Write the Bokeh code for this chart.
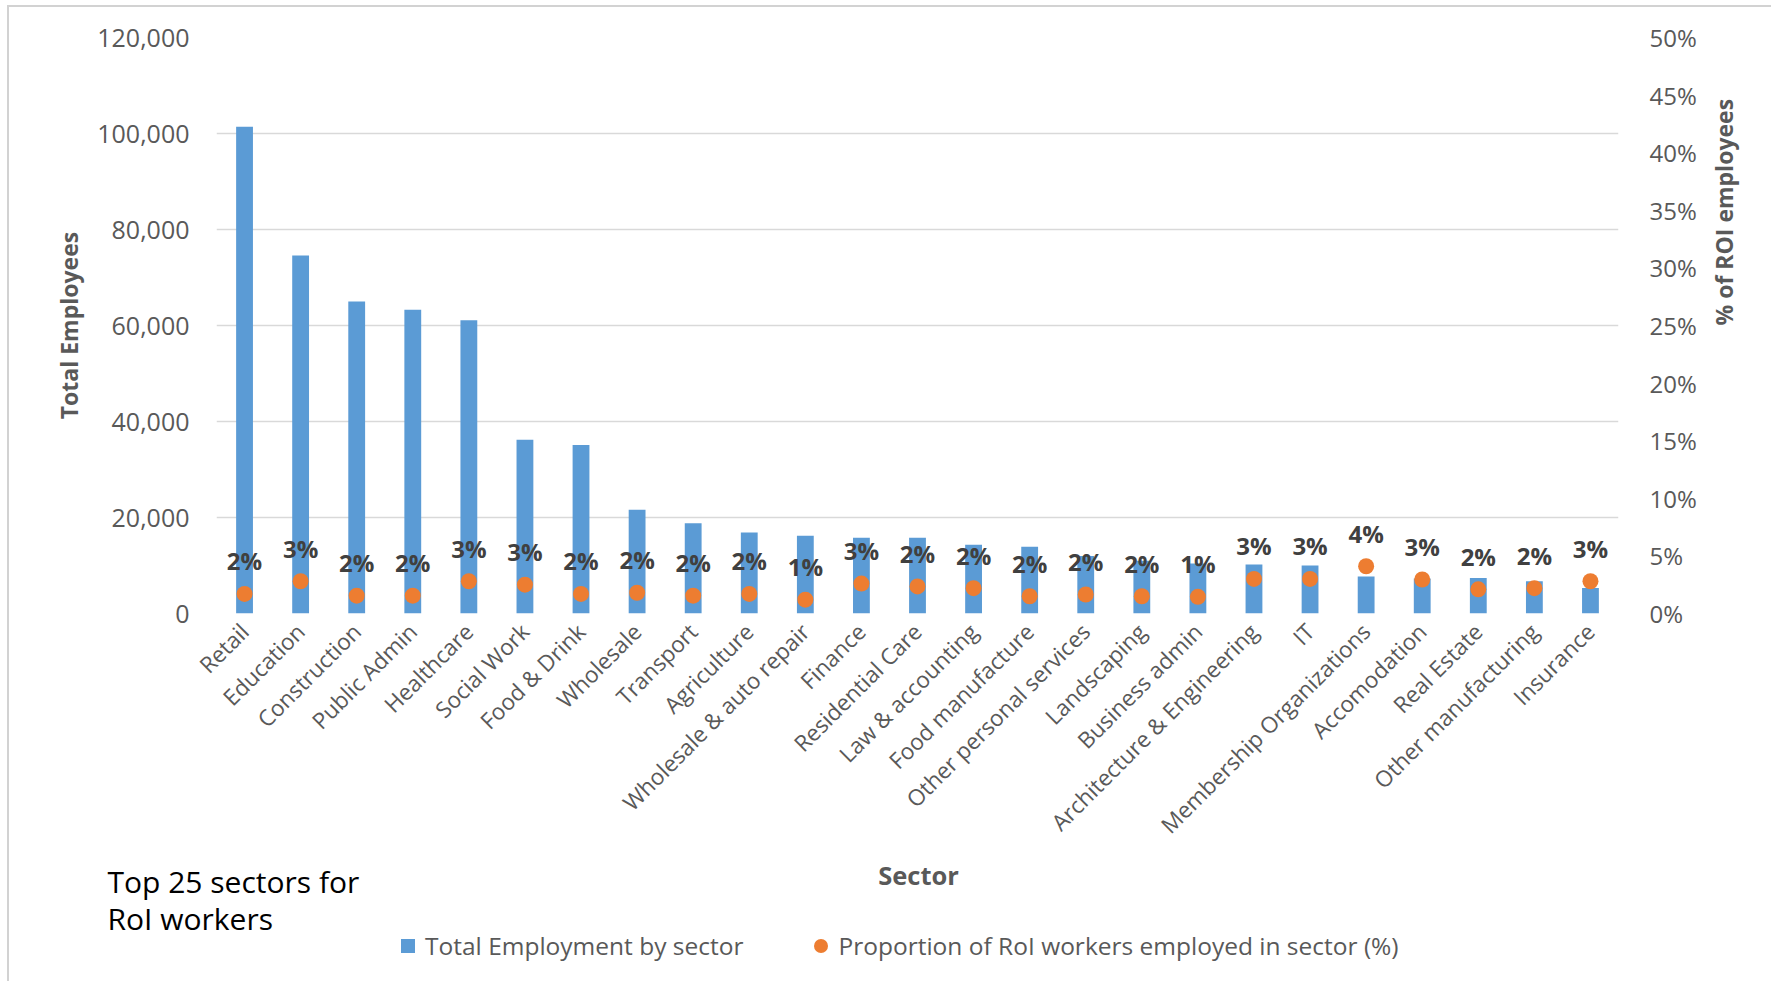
import math
from bokeh.plotting import figure
from bokeh.layouts import column
from bokeh.models import (Range1d, LinearAxis, FixedTicker, NumeralTickFormatter,
                          PrintfTickFormatter, Label, Legend, LegendItem,
                          ColumnDataSource, FactorRange)
from bokeh.core.properties import value
from bokeh.embed import file_html
from bokeh.resources import INLINE

# ---------------- data ----------------
sectors = ["Retail", "Education", "Construction", "Public Admin", "Healthcare",
           "Social Work", "Food & Drink", "Wholesale", "Transport", "Agriculture",
           "Wholesale & auto repair", "Finance", "Residential Care", "Law & accounting",
           "Food manufacture", "Other personal services", "Landscaping", "Business admin",
           "Architecture & Engineering", "IT", "Membership Organizations", "Accomodation",
           "Real Estate", "Other manufacturing", "Insurance"]
total_employees = [101400, 74600, 65000, 63300, 61100, 36200, 35100, 21600, 18800, 16900,
                   16200, 15800, 15800, 14300, 13900, 12000, 11000, 10400, 10200, 10000,
                   7700, 7300, 7400, 6700, 5300]
pct_roi_workers = [1.7, 2.8, 1.55, 1.55, 2.8, 2.5, 1.7, 1.8, 1.55, 1.7,
                   1.2, 2.6, 2.35, 2.2, 1.5, 1.65, 1.5, 1.45, 3.0, 3.0,
                   4.1, 2.95, 2.1, 2.2, 2.8]
pct_labels = ["2%", "3%", "2%", "2%", "3%", "3%", "2%", "2%", "2%", "2%",
              "1%", "3%", "2%", "2%", "2%", "2%", "2%", "1%", "3%", "3%",
              "4%", "3%", "2%", "2%", "3%"]
left_ticks = [0, 20000, 40000, 60000, 80000, 100000, 120000]
right_ticks = [0, 5, 10, 15, 20, 25, 30, 35, 40, 45, 50]
series_names = ["Total Employment by sector",
                "Proportion of RoI workers employed in sector (%)"]
note_lines = ["Top 25 sectors for", "RoI workers"]

FONT = "Open Sans"
GREY = "#595959"
BLUE = "#5B9BD5"
ORANGE = "#ED7D31"
FRAME_LINE = "#d2d2d2"

W = 1771
H_TOP = 856
H_BOTTOM = 981 - H_TOP

src = ColumnDataSource(dict(sector=sectors, total=total_employees,
                            pct=pct_roi_workers, label=pct_labels))

# ---------------- main chart ----------------
p = figure(x_range=FactorRange(factors=sectors), y_range=Range1d(0, 120000),
           width=W, height=H_TOP, output_backend="svg", toolbar_location=None,
           min_border_left=216, min_border_right=153, min_border_top=37,
           min_border_bottom=H_TOP - 613, border_fill_color=None,
           background_fill_color=None, outline_line_color=None)
p.extra_y_ranges = {"pct": Range1d(0, 50)}
p.styles = {
    "background-color": "white",
    "background-image": f"linear-gradient({FRAME_LINE},{FRAME_LINE}), linear-gradient({FRAME_LINE},{FRAME_LINE})",
    "background-size": "2px 100%, 100% 2px",
    "background-position": "7px 5px, 7px 5px",
    "background-repeat": "no-repeat",
}

p.xgrid.grid_line_color = None
p.ygrid.ticker = FixedTicker(ticks=left_ticks)
p.ygrid.grid_line_color = "#d9d9d9"
p.ygrid.grid_line_width = 1.5

# left axis
ya = p.yaxis[0]
ya.ticker = FixedTicker(ticks=left_ticks)
ya.formatter = NumeralTickFormatter(format="0,0")
ya.axis_label = "Total Employees"
ya.axis_label_text_font = FONT
ya.axis_label_text_font_style = "bold"
ya.axis_label_text_font_size = "23px"
ya.axis_label_text_color = GREY
ya.axis_label_standoff = 9
ya.major_label_text_font = FONT
ya.major_label_text_font_size = "25px"
ya.major_label_text_color = GREY
ya.major_label_standoff = 21
ya.axis_line_color = None
ya.major_tick_line_color = None
ya.minor_tick_line_color = None

# right axis
ra = LinearAxis(y_range_name="pct", ticker=FixedTicker(ticks=right_ticks),
                formatter=PrintfTickFormatter(format="%d%%"))
ra.axis_label = "% of ROI employees"
ra.axis_label_text_font = FONT
ra.axis_label_text_font_style = "bold"
ra.axis_label_text_font_size = "23px"
ra.axis_label_text_color = GREY
ra.axis_label_standoff = 24
try:
    ra.axis_label_orientation = math.pi / 2
except Exception:
    pass
ra.major_label_text_font = FONT
ra.major_label_text_font_size = "24px"
ra.major_label_text_color = GREY
ra.major_label_standoff = 25
ra.axis_line_color = None
ra.major_tick_line_color = None
ra.minor_tick_line_color = None
p.add_layout(ra, "right")

# bottom axis
xa = p.xaxis[0]
xa.major_label_orientation = math.pi / 4
xa.major_label_text_font = FONT
xa.major_label_text_font_size = "22.5px"
xa.major_label_text_color = GREY
xa.major_label_standoff = 8
xa.axis_line_color = None
xa.major_tick_line_color = None
xa.minor_tick_line_color = None

bars = p.vbar(x="sector", top="total", width=0.3, source=src,
              fill_color=BLUE, line_color=None)
dots = p.scatter(x="sector", y="pct", size=16, source=src, y_range_name="pct",
                 fill_color=ORANGE, line_color=None, marker="circle")
p.text(x="sector", y="pct", text="label", source=src, y_range_name="pct",
       text_font=value(FONT), text_font_style="bold", text_font_size=value("24px"),
       text_color="#404040", text_align="center", text_baseline="middle",
       y_offset=-33)

# ---------------- bottom strip: axis title, note, legend ----------------
b = figure(width=W, height=H_BOTTOM, x_range=Range1d(0, W), y_range=Range1d(981, H_TOP),
           x_axis_type=None, y_axis_type=None, toolbar_location=None,
           output_backend="svg", min_border_left=0, min_border_right=0,
           min_border_top=0, min_border_bottom=0, outline_line_color=None,
           border_fill_color=None, background_fill_color=None)
for fig in (p, b):
    try:
        fig.frame_align = False
    except Exception:
        pass
b.styles = {
    "background-color": "white",
    "background-image": f"linear-gradient({FRAME_LINE},{FRAME_LINE})",
    "background-size": "2px 100%",
    "background-position": "7px 0px",
    "background-repeat": "no-repeat",
}

b.add_layout(Label(x=918, y=874, text="Sector", text_align="center",
                   text_baseline="middle", text_font=FONT, text_font_style="bold",
                   text_font_size="25.5px", text_color=GREY))
for txt, yy in zip(note_lines, [881, 918]):
    b.add_layout(Label(x=107, y=yy, text=txt, text_align="left",
                       text_baseline="middle", text_font=FONT,
                       text_font_size="30px", text_color="#000000"))

# legend proxies (not drawn in the strip: NaN positions)
proxy = ColumnDataSource(dict(x=[float("nan")], y=[float("nan")]))
sq = b.scatter(x="x", y="y", source=proxy, marker="square",
               fill_color=BLUE, line_color=None)
ci = b.scatter(x="x", y="y", source=proxy, marker="circle",
               fill_color=ORANGE, line_color=None)
leg = Legend(items=[LegendItem(label=series_names[0], renderers=[sq]),
                    LegendItem(label=series_names[1], renderers=[ci])],
             location=(390, 18), orientation="horizontal",
             glyph_width=35, glyph_height=35, label_standoff=0, spacing=60,
             padding=0, margin=0, border_line_color=None, background_fill_alpha=0,
             label_text_font=FONT, label_text_font_size="24.5px",
             label_text_color=GREY)
b.add_layout(leg)

root = column(p, b, spacing=0)
open("out.html", "w").write(file_html(root, INLINE))
